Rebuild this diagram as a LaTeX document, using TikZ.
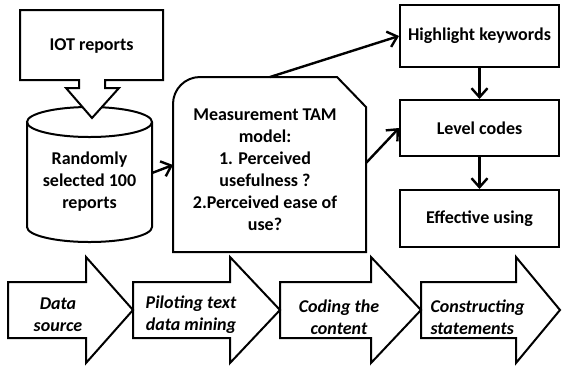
\documentclass[tikz,border=0pt]{standalone}
\usepackage{fontspec}
\setmainfont{Carlito}
\usetikzlibrary{arrows.meta, positioning, calc}

\begin{document}
\begin{tikzpicture}[x=1pt, y=-1pt,
    outline/.style={line width=2pt, line join=miter},
    box/.style={rectangle, draw, line width=2pt,
                minimum width=159pt, text centered, align=center,
                font=\fontsize{18}{22}\selectfont\bfseries},
    lbl/.style={align=center, font=\fontsize{18}{22}\selectfont\bfseries},
    stagetxt/.style={align=center, font=\fontsize{18}{22}\selectfont\bfseries\itshape},
    flow/.style={line width=2.4pt, -{Straight Barb[length=9pt, width=16pt]}}]

\useasboundingbox (0,0) rectangle (562,368);

%% ── Data source: cylinder and callout ────────────────────────────────────────
\draw[outline, fill=white] (27,122) -- (27,227)
    arc[start angle=180, end angle=0, x radius=62.5, y radius=15] -- (152,122);
\draw[outline] (89.5,122) ellipse [x radius=62.5, y radius=15];
\node[lbl] (db) at (89.5,182) {Randomly\\selected 100\\reports};

\draw[outline, fill=white] (20,10) -- (163,10) -- (163,80) -- (105,80)
    -- (105,88) -- (119,88) -- (92,118) -- (66,88) -- (79,88) -- (79,80)
    -- (20,80) -- cycle;
\node[lbl] (iot) at (91.5,46) {IOT reports};

%% ── TAM measurement box ──────────────────────────────────────────────────────
\draw[outline] (173,252) -- (173,104)
    arc[start angle=180, end angle=270, radius=27] -- (337,77)
    -- (366,107) -- (366,252) -- cycle;
\node[lbl] (tam) at (265,170)
    {Measurement TAM\\model:\\1. Perceived\\usefulness ?\\2.Perceived ease of\\use?};

\coordinate (db-out)    at (152,173);
\coordinate (tam-in)    at (173,165);
\coordinate (tam-top)   at (270,77);
\coordinate (tam-right) at (366,163);

%% ── Coding column ────────────────────────────────────────────────────────────
\node[box, minimum height=62pt] (hl) at (479.5,36)  {Highlight keywords};
\node[box, minimum height=56pt] (lc) at (479.5,128) {Level codes};
\node[box, minimum height=57pt] (eu) at (479.5,218.5) {Effective using};

%% ── Connections ──────────────────────────────────────────────────────────────
\draw[flow] (db-out) -- (tam-in);
\draw[flow] (tam-top) -- (hl.west);
\draw[flow] (tam-right) -- (lc.west);
\draw[flow] (hl) -- (lc);
\draw[flow] (lc) -- (eu);

%% ── Stage arrows ─────────────────────────────────────────────────────────────
\foreach \xa/\xh/\xt in {8/86/133, 133/230/280, 280/371/421, 421/516/560}
    \draw[outline] (\xa,282) -- (\xh,282) -- (\xh,257) -- (\xt,310)
        -- (\xh,363) -- (\xh,338) -- (\xa,338) -- cycle;

\node[stagetxt] (src)  at (58,315)  {Data\\source};
\node[stagetxt] (pil)  at (191,315) {Piloting text\\data mining};
\node[stagetxt] (cod)  at (339,317) {Coding the\\content};
\node[stagetxt, align=left, anchor=west] (cons) at (427,317)
    {Constructing\\statements};

\end{tikzpicture}
\end{document}
